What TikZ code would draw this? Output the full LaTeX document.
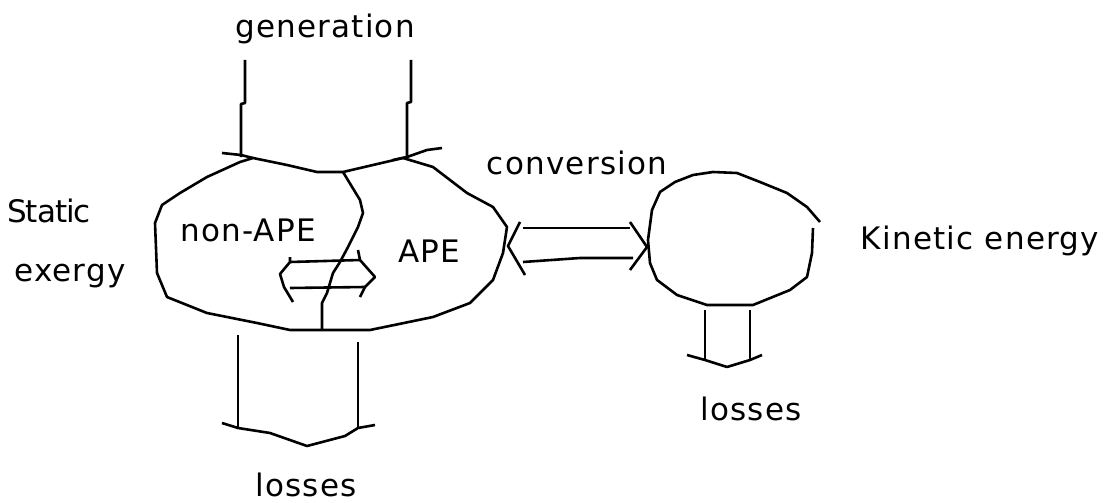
\documentclass[tikz,border=0pt]{standalone}
\usepackage{fontspec}
\setmainfont{DejaVu Sans}[LetterSpace=4]
\begin{document}
\begin{tikzpicture}[x=1pt,y=-1pt,line width=2.6pt,line join=round,
  lbl/.style={font=\fontsize{31}{36}\selectfont,anchor=base,inner sep=0pt}]
\useasboundingbox (0,0) rectangle (1112,503);
% labels
\node[lbl] (gen) at (325,38) {generation};
\node[lbl] (stat) at (49,222) {\addfontfeature{LetterSpace=-3}Static};
\node[lbl] (exer) at (70,281) {exergy};
\node[lbl] (nonape) at (248,241) {non-APE};
\node[lbl] (ape) at (429,262) {APE};
\node[lbl] (conv) at (577,174) {conversion};
\node[lbl] (kin) at (980,249) {Kinetic energy};
\node[lbl] (lossR) at (751,420) {losses};
\node[lbl] (lossB) at (306,496) {losses};
% static exergy blob
\draw (253,158) -- (287,165) -- (317,172) -- (343,172) -- (373,165) -- (403,158)
  -- (433,167) -- (467,193) -- (493,207) -- (507,227) -- (503,253) -- (493,280)
  -- (470,303) -- (433,317) -- (370,330) -- (290,330) -- (257,323) -- (207,313)
  -- (167,297) -- (157,273) -- (155,223) -- (162,205) -- (180,193) -- (207,177)
  -- (240,162) -- cycle;
% divider
\draw (343,172) -- (360,200) -- (363,213) -- (358,227) -- (348,247) -- (340,262)
  -- (333,273) -- (327,293) -- (322,303) -- (322,330);
% inner double arrow
\draw (290,262) -- (360,260);
\draw (290,288) -- (365,287);
\draw (290,257) -- (290,262) -- (280,274) -- (284,287) -- (293,302);
\draw (358,250) -- (360,260) -- (375,277) -- (365,287) -- (360,297);
% generation arrow
\draw (245,60) -- (245,103) -- (241,104) -- (241,157);
\draw (411,60) -- (411,102) -- (407,103) -- (407,157);
\draw (222,153) -- (241,155) -- (253,158);
\draw (393,160) -- (407,157) -- (427,150) -- (442,148);
% losses below blob
\draw (238,335) -- (238,428);
\draw (358,342) -- (358,428);
\draw (222,423) -- (238,428) -- (270,433) -- (307,446) -- (345,436) -- (358,428) -- (375,425);
% conversion arrow
\draw (523,228) -- (630,228);
\draw (523,262) -- (580,258) -- (633,258);
\draw (520,222) -- (508,246) -- (525,275);
\draw (630,222) -- (647,247) -- (630,270);
% kinetic energy circle
\draw (820,222) -- (807,207) -- (787,193) -- (760,182) -- (737,173) -- (713,172)
  -- (693,175) -- (675,182) -- (660,192) -- (652,210) -- (648,240) -- (650,263)
  -- (657,280) -- (677,295) -- (707,305) -- (753,305) -- (790,290) -- (807,277)
  -- (812,253) -- (813,228);
% losses below circle
\draw (705,310) -- (705,360);
\draw (750,310) -- (750,360);
\draw (687,355) -- (705,360) -- (727,367) -- (750,360) -- (762,355);
\end{tikzpicture}
\end{document}
